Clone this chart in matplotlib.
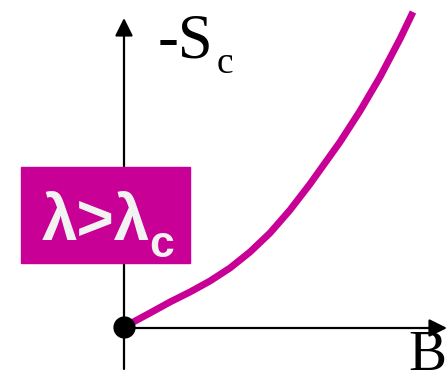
import matplotlib
matplotlib.use('Agg')
import matplotlib.pyplot as plt
from matplotlib.patches import Rectangle

# curve (B along x, -S_c along y)
B = [0, 0.26, 0.46, 0.66, 0.86, 1.06, 1.26, 1.46, 1.66, 1.86, 1.96, 2.16, 2.36, 2.56, 2.76, 2.89]
S = [0, 0.14, 0.25, 0.35, 0.46, 0.59, 0.75, 0.94, 1.17, 1.43, 1.57, 1.85, 2.16, 2.50, 2.88, 3.15]

magenta = '#C80096'

fig = plt.figure(figsize=(4.47, 3.83), dpi=100)
ax = fig.add_axes([0, 0, 1, 1])
ax.set_xlim(-1.24, 3.23)
ax.set_ylim(-0.56, 3.27)
ax.axis('off')

# axes with arrows
arrow = dict(arrowstyle='-|>,head_length=0.6,head_width=0.3', lw=1.6,
             color='black', mutation_scale=18, shrinkA=0, shrinkB=0)
ax.annotate('', xy=(0, 3.09), xytext=(0, -0.42), arrowprops=arrow)
ax.annotate('', xy=(3.23, -0.01), xytext=(0, -0.01), arrowprops=arrow)

# curve and origin point
ax.plot(B, S, color=magenta, lw=5, solid_capstyle='butt', solid_joinstyle='round', zorder=3)
ax.plot([0], [0], 'o', color='black', markersize=15, zorder=4)

# axis labels
serif = ['Liberation Serif', 'DejaVu Serif']
ax.text(0.34, 2.70, '-S', fontsize=45, family=serif, va='baseline', ha='left')
ax.text(0.93, 2.54, 'c', fontsize=27, family=serif, va='baseline', ha='left')
ax.text(2.84, -0.43, 'B', fontsize=41, family=serif, va='baseline', ha='left')

# label box
ax.add_patch(Rectangle((21 / 447, 1 - 263 / 383), 169 / 447, 96 / 383,
                       transform=ax.transAxes, color=magenta, zorder=5))
sans = ['Liberation Sans', 'DejaVu Sans']
ax.text(42 / 447, 1 - 240 / 383, 'λ>λ', fontsize=46, family=sans, fontweight='bold',
        color='#F2F2F2', va='baseline', ha='left', transform=ax.transAxes, zorder=6)
ax.text(149 / 447, 1 - 257 / 383, 'c', fontsize=32, family=sans, fontweight='bold',
        color='#F2F2F2', va='baseline', ha='left', transform=ax.transAxes, zorder=6)

fig.savefig('out.png', dpi=100)
